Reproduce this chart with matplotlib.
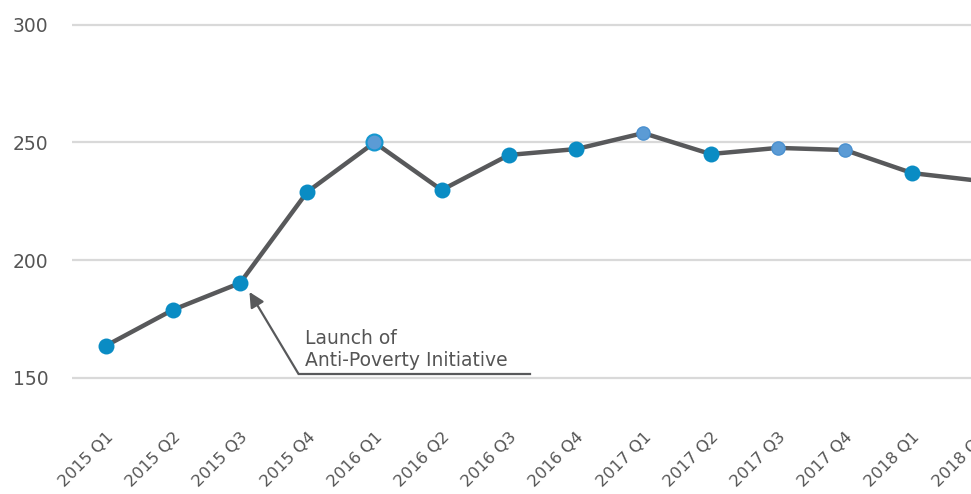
import matplotlib
matplotlib.use("Agg")
import matplotlib.pyplot as plt

quarters = ["2015 Q1", "2015 Q2", "2015 Q3", "2015 Q4", "2016 Q1", "2016 Q2", "2016 Q3",
            "2016 Q4", "2017 Q1", "2017 Q2", "2017 Q3", "2017 Q4", "2018 Q1", "2018 Q2"]
values = [163.6, 178.9, 190.3, 229.0, 250.0, 229.8, 244.7, 247.2, 254.0, 245.1, 247.7, 246.8, 237.0, 233.7]
highlighted = [False, False, False, False, True, False, False, False, True, False, True, True, False, False]
yticks = [150, 200, 250, 300]
annotation_text = "Launch of\nAnti-Poverty Initiative"

plt.rcParams['font.family'] = ['DejaVu Sans']

W, H = 971, 494
fig = plt.figure(figsize=(W / 100, H / 100), dpi=100)
ax = fig.add_axes([72 / W, (H - 425) / H, (1013 - 72) / W, (425 - 13) / H])

x = list(range(len(quarters)))
ax.plot(x, values, color='#58595b', lw=3.2, zorder=3, solid_joinstyle='round')
for xi, v, h in zip(x, values, highlighted):
    if h:
        ax.plot(xi, v, 'o', ms=9.5, mfc='#5b9bd5', mec='#4a90cf', mew=1, zorder=4)
    else:
        ax.plot(xi, v, 'o', ms=11.5, mfc='#0a8cc4', mec='#0a8cc4', mew=0, zorder=4)
# ring on the first highlighted point
ax.plot(4, values[4], 'o', ms=11.5, mfc='#5b9bd5', mec='#1597d0', mew=1.5, zorder=5)

ax.set_xlim(-0.5, len(quarters) - 0.5)
ax.set_ylim(130, 305)
ax.set_yticks(yticks)
ax.set_xticks(x)
ax.set_xticklabels(quarters, rotation=45, ha='right', va='top', rotation_mode='anchor')
ax.yaxis.grid(True, color='#d9d9d9', lw=1.6)
ax.set_axisbelow(True)
for s in ax.spines.values():
    s.set_visible(False)
ax.tick_params(axis='both', length=0, colors='#555555')
ax.tick_params(axis='y', pad=17, labelsize=13.5)
ax.tick_params(axis='x', pad=3, labelsize=11.8)

# annotation
ax.annotate('', xy=(2.14, 186.5), xytext=(2.87, 151.7),
            arrowprops=dict(arrowstyle='-|>,head_length=0.9,head_width=0.45', color='#58595b',
                            lw=1.6, shrinkA=0, shrinkB=0), zorder=6)
ax.plot([2.87, 6.31], [151.7, 151.7], color='#58595b', lw=1.6, zorder=6)
ax.text(2.96, 153.2, annotation_text, color='#555555', fontsize=13.5, ha='left', va='bottom',
        linespacing=1.25)

fig.savefig('out.png', dpi=100)
